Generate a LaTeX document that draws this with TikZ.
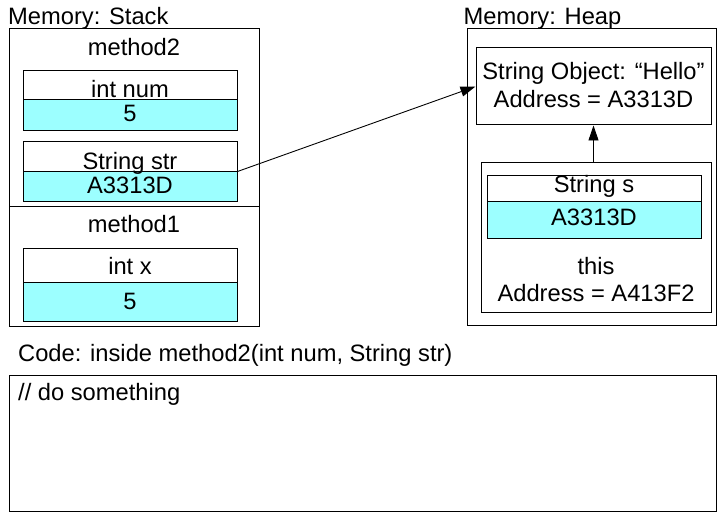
\documentclass[tikz,border=0pt]{standalone}
\usepackage{fontspec}
\setmainfont{Liberation Sans}
\usetikzlibrary{arrows.meta}
\definecolor{valcyan}{HTML}{9CFFFF}
\tikzset{
  frame/.style={draw=black, line width=1pt, inner sep=0pt},
  namecell/.style={draw=black, line width=1pt, fill=white, inner sep=0pt, minimum width=214pt},
  valcell/.style={draw=black, line width=1pt, fill=valcyan, inner sep=0pt, minimum width=214pt},
  txt/.style={inner sep=0pt, anchor=base, font=\fontsize{23.7}{28}\selectfont},
  ltxt/.style={inner sep=0pt, anchor=base west, font=\fontsize{23.7}{28}\selectfont},
  pointer/.style={draw=black, line width=0.9pt, -{Triangle[length=15pt,width=10pt]}}
}
\begin{document}
\begin{tikzpicture}[x=1pt,y=-1pt]
\useasboundingbox (0,0) rectangle (725,518);
\fill[white] (0,0) rectangle (725,518);
% Stack
\node[ltxt] (stacklbl) at (8,25) {Memory: Stack};
\node[frame, minimum width=250pt, minimum height=178pt] (m2frame) at (134,118) {};
\node[frame, minimum width=250pt, minimum height=120pt] (m1frame) at (134,267) {};
\node[txt] (m2lbl) at (134,56) {method2};
\node[namecell, minimum height=29pt] (numname) at (130,85.5) {};
\node[valcell, minimum height=31pt] (numval) at (130,115.5) {};
\node[txt] (numnametxt) at (130,98) {int num};
\node[txt] (numvaltxt) at (130,122) {5};
\node[namecell, minimum height=30pt] (strname) at (130,157) {};
\node[valcell, minimum height=30pt] (strval) at (130,187) {};
\node[txt] (strnametxt) at (130,170) {String str};
\node[txt] (strvaltxt) at (130,194) {A3313D};
\node[txt] (m1lbl) at (134,233) {method1};
\node[namecell, minimum height=34pt] (xname) at (130,266) {};
\node[valcell, minimum height=39pt] (xval) at (130,302.5) {};
\node[txt] (xnametxt) at (130,275) {int x};
\node[txt] (xvaltxt) at (130,310) {5};
% Heap
\node[ltxt] (heaplbl) at (463.5,25) {Memory: Heap};
\node[frame, minimum width=249pt, minimum height=297pt] (heap) at (591.5,177.5) {};
\node[frame, minimum width=235pt, minimum height=77pt] (strobj) at (593.5,86.5) {};
\node[txt] (strobjtxt1) at (593.5,80) {String Object: “Hello”};
\node[txt] (strobjtxt2) at (593.5,108) {Address = A3313D};
\node[frame, minimum width=230pt, minimum height=150pt] (thisbox) at (596,238) {};
\node[namecell, minimum height=26pt] (sname) at (594,189) {};
\node[valcell, minimum height=37pt] (sval) at (594,220.5) {};
\node[txt] (snametxt) at (594,193) {String s};
\node[txt] (svaltxt) at (594,226) {A3313D};
\node[txt] (thistxt) at (596,275) {this};
\node[txt] (thisaddr) at (596,302) {Address = A413F2};
% Code
\node[ltxt] (codelbl) at (18,361) {Code: inside method2(int num, String str)};
\node[frame, minimum width=707pt, minimum height=136pt] (codebox) at (362.5,443) {};
\node[ltxt] (codetxt) at (18,400) {// do something};
% Pointers
\draw[pointer] (strval.north east) -- (strobj.west);
\draw[pointer] (strobj.south |- thisbox.north) -- (strobj.south);
\end{tikzpicture}
\end{document}
